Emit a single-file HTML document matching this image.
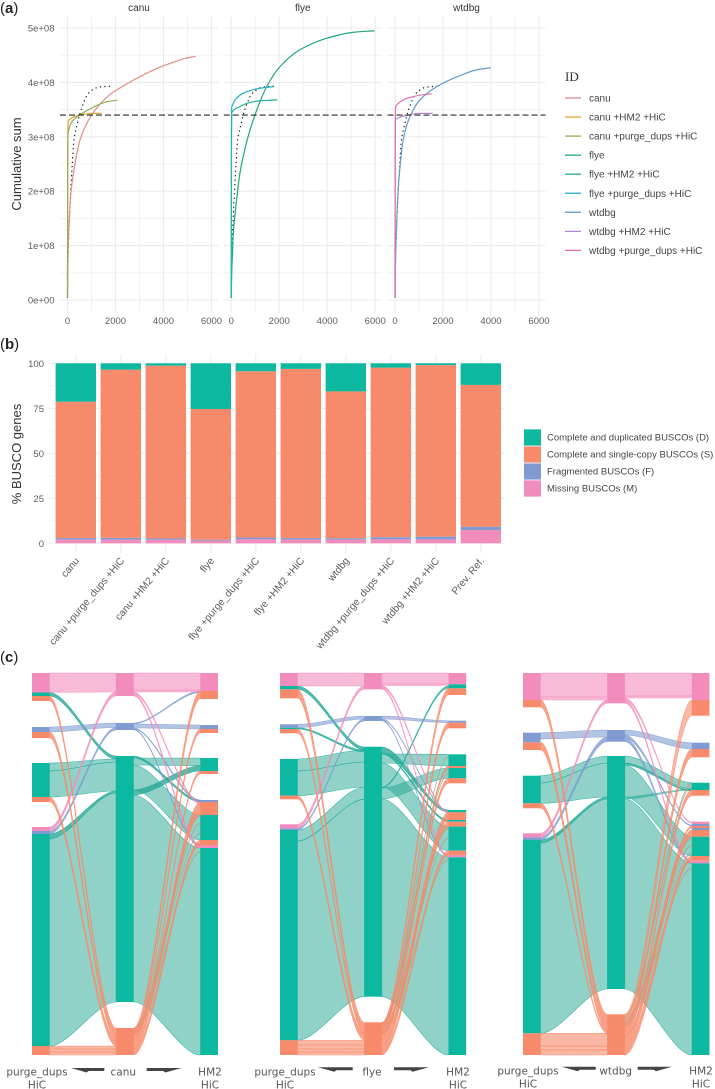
<!DOCTYPE html>
<html lang="en">
<head>
<meta charset="utf-8">
<title>Genome assembly comparison figure</title>
<style>
html,body{margin:0;padding:0;background:#fff;}
svg{display:block;font-family:"Liberation Sans",sans-serif;}
</style>
</head>
<body>
<svg id="figure" xmlns="http://www.w3.org/2000/svg" width="715" height="1089" viewBox="0 0 715 1089"></svg>
<script>
/* ---------- panel (a) data: contig rank vs cumulative sum (units of 1e8 bp) ---------- */
const facetNames = ['canu', 'flye', 'wtdbg'];
const aXTicks = [0, 2000, 4000, 6000];
const aXMinorTicks = [1000, 3000, 5000];
const aYTicks = [0, 1, 2, 3, 4, 5];
const aYTickLabels = ['0e+00', '1e+08', '2e+08', '3e+08', '4e+08', '5e+08'];
const aYMinorTicks = [0.5, 1.5, 2.5, 3.5, 4.5];
const referenceSize = 3.4;
const prevRefRank = [0, 15, 40, 80, 130, 200, 270, 400, 520, 650, 825, 1000, 1200, 1450, 1800];
const prevRefCum = [0.05, 0.6, 1.0, 1.5, 1.96, 2.5, 2.95, 3.22, 3.43, 3.6, 3.77, 3.85, 3.9, 3.92, 3.93];
const canuRank = [0, 10, 30, 60, 100, 150, 220, 312, 400, 520, 700, 1000, 1350, 1750, 2190, 2700, 3300, 3800, 4400, 4900, 5340];
const canuCum = [0.05, 0.5, 1.0, 1.35, 1.7, 2.0, 2.25, 2.5, 2.72, 2.94, 3.15, 3.4, 3.6, 3.77, 3.9, 4.03, 4.17, 4.27, 4.37, 4.44, 4.48];
const canuHm2Rank = [0, 5, 10, 20, 30, 60, 150, 300, 500, 800, 1100, 1425];
const canuHm2Cum = [0.05, 1.5, 2.8, 3.2, 3.29, 3.31, 3.34, 3.37, 3.4, 3.42, 3.43, 3.43];
const canuPurgeRank = [0, 5, 10, 20, 50, 100, 200, 350, 500, 800, 1100, 1400, 1700, 2070];
const canuPurgeCum = [0.05, 1.5, 2.6, 3.05, 3.12, 3.2, 3.29, 3.35, 3.4, 3.48, 3.55, 3.61, 3.65, 3.67];
const flyeRank = [0, 20, 50, 85, 150, 222, 350, 500, 700, 987, 1475, 2030, 2860, 3970, 5070, 5970];
const flyeCum = [0.05, 0.5, 0.85, 1.22, 1.55, 1.84, 2.3, 2.64, 3.0, 3.4, 3.92, 4.29, 4.6, 4.81, 4.92, 4.95];
const flyeHm2Rank = [0, 5, 10, 20, 60, 150, 330, 700, 1170, 1500, 1930];
const flyeHm2Cum = [0.05, 1.6, 3.0, 3.44, 3.47, 3.51, 3.55, 3.62, 3.66, 3.67, 3.68];
const flyePurgeRank = [0, 5, 10, 15, 50, 120, 222, 450, 780, 1330, 1750];
const flyePurgeCum = [0.05, 1.6, 3.0, 3.53, 3.58, 3.65, 3.71, 3.79, 3.85, 3.9, 3.92];
const wtdbgRank = [0, 15, 40, 80, 139, 220, 320, 450, 653, 1040, 1735, 2570, 3400, 4000];
const wtdbgCum = [0.05, 0.6, 1.05, 1.55, 2.08, 2.5, 2.88, 3.15, 3.4, 3.68, 3.92, 4.1, 4.23, 4.27];
const wtdbgHm2Rank = [0, 5, 10, 20, 60, 200, 450, 764, 1100, 1570];
const wtdbgHm2Cum = [0.05, 1.6, 3.0, 3.32, 3.33, 3.36, 3.39, 3.42, 3.43, 3.43];
const wtdbgPurgeRank = [0, 5, 10, 20, 60, 208, 450, 764, 1100, 1530];
const wtdbgPurgeCum = [0.05, 1.6, 3.0, 3.54, 3.58, 3.64, 3.7, 3.74, 3.77, 3.79];
const legendALabels = ['canu', 'canu +HM2 +HiC', 'canu +purge_dups +HiC', 'flye', 'flye +HM2 +HiC', 'flye +purge_dups +HiC', 'wtdbg', 'wtdbg +HM2 +HiC', 'wtdbg +purge_dups +HiC'];
const legendAColors = ['#E28C88', '#E8A33C', '#92AE50', '#1EA874', '#20B09A', '#1FB2C6', '#5E9BCE', '#B488CC', '#E36DB0'];

/* ---------- panel (b) data: percent of BUSCO genes ---------- */
const busoAssemblies = ['canu', 'canu +purge_dups +HiC', 'canu +HM2 +HiC', 'flye', 'flye +purge_dups +HiC', 'flye +HM2 +HiC', 'wtdbg', 'wtdbg +purge_dups +HiC', 'wtdbg +HM2 +HiC', 'Prev. Ref.'];
const buscoMissing = [2.0, 2.0, 2.0, 1.5, 2.2, 2.0, 2.0, 2.2, 2.2, 7.4];
const buscoFragmented = [0.9, 1.0, 0.7, 0.5, 1.0, 0.9, 0.8, 1.2, 1.5, 1.8];
const buscoSingle = [75.8, 93.5, 96.0, 72.6, 92.4, 94.0, 81.6, 94.2, 95.3, 78.8];
const buscoDuplicated = [21.3, 3.5, 1.3, 25.4, 4.4, 3.1, 15.6, 2.4, 1.0, 12.0];
const buscoTicks = [0, 25, 50, 75, 100];
const buscoMinorTicks = [12.5, 37.5, 62.5, 87.5];
const legendBLabels = ['Complete and duplicated BUSCOs (D)', 'Complete and single-copy BUSCOs (S)', 'Fragmented BUSCOs (F)', 'Missing BUSCOs (M)'];

/* ---------- panel (c) data: BUSCO gene stack levels, counted from top of the stack ---------- */
const alluvialTotal = 382;
const canuStrataLeft = [['M',0,19.5],['D',19.5,23],['S',23,28],['F',54,59],['S',59,65],['D',90,124],['S',124,129],['M',154,158],['F',158,161],['D',161,373],['S',373,382]];
const canuStrataMid = [['M',0,23],['F',50,57],['D',83,329],['S',355,382]];
const canuStrataRight = [['M',0,18],['S',18,26],['F',52,56],['S',56,60],['D',85,98],['S',98,101],['F',127,129],['S',129,142],['D',142,167],['S',167,172],['M',172,175],['D',175,382]];
const canuFlowsLeft = [
 ['D',90,98,86,89],['D',98,124,89,118],['D',161,166,118,120],['D',166,373,120,329],['D',19.5,23,83,86],
 ['F',54,59,50,54.5],['F',158,161,54.5,57],['M',0,19.5,0,19],['M',154,158,19,23],
 ['S',23,28,355,360],['S',59,65,360,366],['S',124,129,366,373],['S',373,376,373,376],['S',376,379,376,379],['S',379,382,379,382]];
const canuFlowsRight = [
 ['D',85,92.7,85,92],['D',142,167,92,117],['D',175,382,122,329],['D',92.7,98,117,122],['D',127,129,83,85],
 ['F',18,19.5,50,51],['F',52,56,51,55],['F',127,129,55,56],['F',172,174,56,57],
 ['M',0,17,0,17],['M',17,19,17,19],['M',129.5,131,19,21],['M',172,175,21,23],
 ['X',142,143,355,356],['X',150,151,357,358],['X',160,161,359,360],['X',178,179,361,362],
 ['S',18,26,355,362],['S',56,60,362,366],['S',98,101,366,369],['S',129,142,369,376],['S',167,172,376,382]];
const flyeStrataLeft = [['M',0,13],['D',13,16.3],['S',16.3,25.3],['F',51.3,54.7],['D',54.7,56],['S',56,60.3],['D',86,122.7],['S',122.7,126.3],['M',151.3,155.3],['F',155.3,157],['D',157,367.3],['S',367.3,382]];
const flyeStrataMid = [['M',0,16.3],['F',43,48],['D',73.7,323.7],['S',349.3,382]];
const flyeStrataRight = [['M',0,11.3],['D',11.3,15.3],['S',15.3,22],['F',47.7,49.7],['S',49.7,55.3],['D',81.3,93],['S',93,95],['D',95,105.3],['S',105.3,110.3],['D',137,139.3],['S',139.3,147],['D',147,148.7],['S',148.7,153.7],['D',153.7,177.7],['S',177.7,182],['M',182,184.3],['D',184.3,382]];
const flyeFlowsLeft = [
 ['D',86,98,77,89],['D',98,122.7,89,114],['D',157,168,114,126.3],['D',168,367.3,126.3,323.7],['D',13,16.3,74,77],['D',54.7,56,77,79],
 ['F',51.3,54.7,43,46],['F',155.3,157,46,48],['M',0,13,0,13],['M',151.3,155.3,13,16.3],
 ['S',16.3,25.3,349.3,356],['S',56,60.3,356,360],['S',122.7,126.3,360,367],['S',367.3,372,367.3,372],['S',372,376,372,376],['S',376,379,376,379],['S',379,382,379,382]];
const flyeFlowsRight = [
 ['D',81.3,93,81,90],['D',153.7,177.7,90,114],['D',95,105.3,115,126],['D',184.3,382,126,323.7],['D',137,139.3,74,80],['D',147,148.7,80,81],['D',13,15,114,115],
 ['F',47.7,49.7,43,46],['F',138,139,46,47],['F',183,184,47,48],
 ['M',0,11,0,11],['M',11,12.5,11,12.5],['M',139,140.5,12.5,14.5],['M',182,184,14.5,16.3],
 ['X',83,84,349.3,350.3],['X',96,97,351,352],['X',100,101,353,354],['X',155,156,355,356],['X',165,166,358,359],['X',186,187,360,361],
 ['S',15.3,22,349.3,356],['S',49.7,55.3,356,360],['S',93,95,360,362],['S',105.3,110.3,362,366],['S',139.3,147,366,372],['S',148.7,153.7,372,377],['S',177.7,182,377,382]];
const wtdbgStrataLeft = [['M',0,27],['S',27,34.3],['F',59.7,69.3],['S',69.3,77],['D',102.7,130.3],['S',130.3,135.3],['M',160.3,164.3],['F',164.3,167],['D',167,360.3],['S',360.3,382]];
const wtdbgStrataMid = [['M',0,30.3],['F',57,68.7],['D',83,316],['S',341.3,382]];
const wtdbgStrataRight = [['M',0,27],['S',27,42.7],['F',69.7,76],['S',76,84.3],['D',109.7,117],['S',117,122.7],['M',148.7,151],['F',151,153],['S',153,155],['F',155,157],['S',157,163.7],['D',163.7,183],['S',183,187.7],['M',187.7,190.3],['D',190.3,382]];
const wtdbgFlowsLeft = [
 ['D',102.7,110,83,90],['D',110,130.3,90,124],['D',167,170,124,126],['D',170,360.3,126,316],
 ['F',59.7,66,57,64],['F',164.3,167,64,68.7],['M',0,24,0,24],['M',24,27,24,27],['M',160.3,164.3,27,30.3],
 ['S',27,34.3,341.3,350],['S',69.3,77,350,358],['S',130.3,135.3,358,360.3],['S',360.3,373,360.3,373],['S',373,377,373,377],['S',377,382,377,382]];
const wtdbgFlowsRight = [
 ['D',109.7,116,83,90],['D',163.7,183,92,124],['D',116,117,124,126],['D',190.3,382,126,316],['D',117,118,90,92],
 ['F',69.7,76,57,62],['F',152,153,62,65],['F',188.5,190,65,68.7],
 ['M',0,23,0,23],['M',23,25,23,25],['M',149,150,25,27.5],['M',188,190,27.5,30.3],
 ['X',110,111,341.3,342.3],['X',113,114,344,345],['X',165,166,346,347],['X',172,173,348,349],['X',180,181,350,351],['X',195,196,352,353],
 ['S',27,42.7,341.3,352],['S',76,84.3,352,358],['S',117,122.7,358,362],['S',153,155,362,364],['S',157,163.7,364,372],['S',183,187.7,372,382]];

/* ---------- helpers ---------- */
const NS = 'http://www.w3.org/2000/svg';
const root = document.getElementById('figure');
function el(tag, attrs, parent) {
  const n = document.createElementNS(NS, tag);
  for (const k in attrs) n.setAttribute(k, attrs[k]);
  parent.appendChild(n);
  return n;
}
/* monotone cubic path through screen points */
function monotonePath(px, py) {
  const n = px.length;
  const h = [], s = [], m = [];
  for (let i = 0; i < n - 1; i++) {
    h.push(Math.max(px[i + 1] - px[i], 1e-6));
    s.push((py[i + 1] - py[i]) / h[i]);
  }
  m.push(s[0]);
  for (let i = 1; i < n - 1; i++) {
    m.push(s[i - 1] * s[i] <= 0 ? 0 : 2 * s[i - 1] * s[i] / (s[i - 1] + s[i]));
  }
  m.push(s[n - 2]);
  let d = 'M' + px[0] + ' ' + py[0];
  for (let i = 0; i < n - 1; i++) {
    const t = h[i] / 3;
    d += 'C' + (px[i] + t) + ' ' + (py[i] + m[i] * t) + ' ' + (px[i + 1] - t) + ' ' + (py[i + 1] - m[i + 1] * t) + ' ' + px[i + 1] + ' ' + py[i + 1];
  }
  return d;
}
const GRID = '#ebebeb';
const TICK = '#5c5c5c';
const catFill = { D: '#0DB8A0', S: '#F78A6A', F: '#7F9BD2', M: '#F28CBC', X: '#A8A98C' };
const paleFill = { D: '#2BA896', S: '#F78A6A', F: '#7F9BD2', M: '#F28CBC', X: '#A8A98C' };
const paleAlpha = { D: 0.52, S: 0.62, F: 0.6, M: 0.6, X: 0.7 };
const thinLimit = { D: 5.5, S: 10, F: 4, M: 5, X: 4 };

/* ---------- section tags ---------- */
const sectionLetters = ['a', 'b', 'c'];
const sectionLevels = [13, 349, 662];
sectionLetters.forEach(function (letter, i) {
  const t = el('text', { x: 0, y: sectionLevels[i], 'font-size': 15, fill: '#222' }, root);
  
  
  t.appendChild(document.createTextNode('('));
  const b = el('tspan', { 'font-weight': 'bold' }, t);
  b.textContent = letter;
  t.appendChild(document.createTextNode(')'));
});

/* ---------- panel (a) ---------- */
const xA = function (f, v) { return 67.5 + 163.75 * f + 0.024 * v; };
const yA = function (v) { return 300 - 54.4 * v; };
const panelA = el('g', {}, root);


const facetSeries = [
  [[canuRank, canuCum, 0], [canuHm2Rank, canuHm2Cum, 1], [canuPurgeRank, canuPurgeCum, 2]],
  [[flyeRank, flyeCum, 3], [flyeHm2Rank, flyeHm2Cum, 4], [flyePurgeRank, flyePurgeCum, 5]],
  [[wtdbgRank, wtdbgCum, 6], [wtdbgHm2Rank, wtdbgHm2Cum, 7], [wtdbgPurgeRank, wtdbgPurgeCum, 8]]
];
facetNames.forEach(function (name, f) {
  const g = el('g', {}, panelA);
  
  
  const left = xA(f, 0) - 7.5, right = xA(f, 0) + 150.5;
  aYMinorTicks.forEach(function (v) {
    const l = el('line', { x1: left, x2: right, y1: yA(v), y2: yA(v), stroke: GRID, 'stroke-width': 0.6 }, g);
    
    
  });
  aYTicks.forEach(function (v) {
    const l = el('line', { x1: left, x2: right, y1: yA(v), y2: yA(v), stroke: GRID, 'stroke-width': 1.1 }, g);
    
    
  });
  aXMinorTicks.forEach(function (v) {
    const l = el('line', { x1: xA(f, v), x2: xA(f, v), y1: 17, y2: 313, stroke: GRID, 'stroke-width': 0.6 }, g);
    
    
  });
  aXTicks.forEach(function (v) {
    const l = el('line', { x1: xA(f, v), x2: xA(f, v), y1: 17, y2: 313, stroke: GRID, 'stroke-width': 1.1 }, g);
    
    
    const t = el('text', { x: xA(f, v), y: 324, 'font-size': 9.5, fill: TICK, 'text-anchor': 'middle' }, g);
    
    
    t.textContent = String(v);
  });
  const title = el('text', { x: xA(f, 0) + 71.5, y: 11, 'font-size': 10, fill: '#333', 'text-anchor': 'middle' }, g);
  
  
  title.textContent = name;
  const dots = el('path', {
    d: monotonePath(prevRefRank.map(function (r) { return xA(f, r); }), prevRefCum.map(yA)),
    fill: 'none', stroke: '#111', 'stroke-width': 1.3, 'stroke-dasharray': '0.1 4.4', 'stroke-linecap': 'round'
  }, g);
  
  
  facetSeries[f].forEach(function (s) {
    const line = el('path', {
      d: monotonePath(s[0].map(function (r) { return xA(f, r); }), s[1].map(yA)),
      fill: 'none', stroke: legendAColors[s[2]], 'stroke-width': 1.2, 'stroke-linejoin': 'round'
    }, g);
    
    
  });
  const dash = el('line', { x1: left, x2: right, y1: yA(referenceSize), y2: yA(referenceSize), stroke: '#2a2a2a', 'stroke-width': 1.2, 'stroke-dasharray': '6 3' }, g);
  
  
});
aYTicks.forEach(function (v, i) {
  const t = el('text', { x: 54.5, y: yA(v) + 3.5, 'font-size': 9.5, fill: TICK, 'text-anchor': 'end' }, panelA);
  
  
  t.textContent = aYTickLabels[i];
});
const aTitle = el('text', { x: 0, y: 0, 'font-size': 13, fill: '#333', 'text-anchor': 'middle', transform: 'translate(21,164) rotate(-90)' }, panelA);


aTitle.textContent = 'Cumulative sum';
const idTitle = el('text', { x: 565, y: 81, 'font-size': 13, fill: '#333', 'font-family': '"Liberation Serif",serif' }, panelA);


idTitle.textContent = 'ID';
legendALabels.forEach(function (label, i) {
  const y = 98 + 19.05 * i;
  const k = el('line', { x1: 565, x2: 581, y1: y, y2: y, stroke: legendAColors[i], 'stroke-width': 1.3 }, panelA);
  
  
  const t = el('text', { x: 589, y: y + 3.5, 'font-size': 10, fill: '#444' }, panelA);
  
  
  t.textContent = label;
});

/* ---------- panel (b) ---------- */
const xB = function (i) { return 75.8 + 45 * i; };
const yB = function (v) { return 543.3 - 1.8 * v; };
const panelB = el('g', {}, root);


buscoMinorTicks.forEach(function (v) {
  const l = el('line', { x1: 47, x2: 505, y1: yB(v), y2: yB(v), stroke: '#f0f0f0', 'stroke-width': 0.6 }, panelB);
  
  
});
buscoTicks.forEach(function (v) {
  const l = el('line', { x1: 47, x2: 505, y1: yB(v), y2: yB(v), stroke: GRID, 'stroke-width': 1 }, panelB);
  
  
  const t = el('text', { x: 44, y: yB(v) + 3.5, 'font-size': 9.5, fill: TICK, 'text-anchor': 'end' }, panelB);
  
  
  t.textContent = String(v);
});
busoAssemblies.forEach(function (name, i) {
  const cx = xB(i);
  const v = el('line', { x1: cx, x2: cx, y1: 354, y2: 553, stroke: GRID, 'stroke-width': 1 }, panelB);
  
  
  const parts = [['M', buscoMissing[i]], ['F', buscoFragmented[i]], ['S', buscoSingle[i]], ['D', buscoDuplicated[i]]];
  let base = 0;
  parts.forEach(function (p) {
    const top = base + p[1];
    const r = el('rect', { x: cx - 20.2, width: 40.4, y: yB(top), height: yB(base) - yB(top), fill: catFill[p[0]] }, panelB);
    
    
    base = top;
  });
  const t = el('text', { x: 0, y: 0, 'font-size': 10.2, fill: TICK, 'text-anchor': 'end', transform: 'translate(' + (cx + 4) + ',561) rotate(-50)' }, panelB);
  
  
  t.textContent = name;
});
const bTitle = el('text', { x: 0, y: 0, 'font-size': 13, fill: '#333', 'text-anchor': 'middle', transform: 'translate(21,454) rotate(-90)' }, panelB);


bTitle.textContent = '% BUSCO genes';
['D', 'S', 'F', 'M'].forEach(function (c, i) {
  const y = 429 + 17 * i;
  const r = el('rect', { x: 524, y: y + 0.4, width: 17, height: 16.2, fill: catFill[c] }, panelB);
  
  
  const t = el('text', { x: 547, y: y + 11.5, 'font-size': 9.5, fill: '#444' }, panelB);
  
  
  t.textContent = legendBLabels[i];
});

/* ---------- panel (c) ---------- */
const yC = function (v) { return 673 + v * 382 / alluvialTotal; };
const flowOrder = { D: 0, F: 1, M: 2, X: 3, S: 4 };
function drawFlow(parent, x1, x2, f, side) {
  /* side 'L': f=[cat, outerTop, outerBottom, midTop, midBottom] outer at x1, mid at x2
     side 'R': outer at x2, mid at x1 */
  const a0 = side === 'L' ? f[1] : f[3], a1 = side === 'L' ? f[2] : f[4];
  const b0 = side === 'L' ? f[3] : f[1], b1 = side === 'L' ? f[4] : f[2];
  const c1 = x1 + (x2 - x1) * 0.3, c2 = x1 + (x2 - x1) * 0.7;
  const d = 'M' + x1 + ' ' + yC(a0) +
    'C' + c1 + ' ' + yC(a0) + ' ' + c2 + ' ' + yC(b0) + ' ' + x2 + ' ' + yC(b0) +
    'L' + x2 + ' ' + yC(b1) +
    'C' + c2 + ' ' + yC(b1) + ' ' + c1 + ' ' + yC(a1) + ' ' + x1 + ' ' + yC(a1) + 'Z';
  const thin = Math.min(a1 - a0, b1 - b0) < thinLimit[f[0]] && Math.abs(a0 - b0) > 10;
  const p = el('path', {
    d: d, fill: paleFill[f[0]], 'fill-opacity': thin ? 0.8 : paleAlpha[f[0]],
    stroke: f[0] === 'D' ? '#1CAF9A' : catFill[f[0]], 'stroke-width': f[0] === 'D' ? 0.6 : 0.5, 'stroke-opacity': 0.85
  }, parent);
  
  
}
function drawStrata(parent, strata, x, w) {
  strata.forEach(function (s) {
    const r = el('rect', { x: x, width: w, y: yC(s[1]), height: yC(s[2]) - yC(s[1]), fill: catFill[s[0]] }, parent);
    
    
  });
}
function drawArrow(parent, xa, xb, y, dir) {
  const notch = xa + (xb - xa) * 0.5;
  const pts = dir < 0
    ? [[xa, y], [xb, y], [xb, y + 3], [notch + 1, y + 3], [notch - 1, y + 4.5]]
    : [[xa, y], [xb, y], [notch + 1, y + 4.5], [notch - 1, y + 3], [xa, y + 3]];
  const a = el('polygon', { points: pts.map(function (q) { return q.join(','); }).join(' '), fill: '#444' }, parent);
  
  
}
function drawLabel(parent, x, y, str, name) {
  const t = el('text', { x: x, y: y, 'font-size': 10.5, fill: '#555', 'text-anchor': 'middle', 'font-family': '"DejaVu Sans",sans-serif' }, parent);
  
  
  t.textContent = str;
}
const alluvialPlots = [
  { name: 'canu', sl: canuStrataLeft, sm: canuStrataMid, sr: canuStrataRight, fl: canuFlowsLeft, fr: canuFlowsRight,
    xl: 32, xm: 116, xr: 200.5, w: 17.5, ly: 1075.5, ay: 1068, pc: 37, mc: 123.3, hc: 210, a1: 71, a2: 104.3, a3: 146.7, a4: 181.7 },
  { name: 'flye', sl: flyeStrataLeft, sm: flyeStrataMid, sr: flyeStrataRight, fl: flyeFlowsLeft, fr: flyeFlowsRight,
    xl: 280, xm: 364.3, xr: 448.7, w: 17.5, ly: 1075.5, ay: 1067.3, pc: 285, mc: 372, hc: 458, a1: 318, a2: 352.7, a3: 394, a4: 429 },
  { name: 'wtdbg', sl: wtdbgStrataLeft, sm: wtdbgStrataMid, sr: wtdbgStrataRight, fl: wtdbgFlowsLeft, fr: wtdbgFlowsRight,
    xl: 523, xm: 607.3, xr: 692, w: 17.5, ly: 1074.5, ay: 1066.7, pc: 528, mc: 615.7, hc: 701, a1: 561.7, a2: 595.7, a3: 637.7, a4: 672 }
];
alluvialPlots.forEach(function (pl) {
  const g = el('g', {}, root);
  
  
  const all = pl.fl.map(function (f) { return ['L', f]; }).concat(pl.fr.map(function (f) { return ['R', f]; }));
  all.sort(function (a, b) { return flowOrder[a[1][0]] - flowOrder[b[1][0]]; });
  all.forEach(function (e) {
    if (e[0] === 'L') drawFlow(g, pl.xl + pl.w, pl.xm, e[1], 'L');
    else drawFlow(g, pl.xm + pl.w, pl.xr, e[1], 'R');
  });
  drawStrata(g, pl.sl, pl.xl, pl.w);
  drawStrata(g, pl.sm, pl.xm, pl.w);
  drawStrata(g, pl.sr, pl.xr, pl.w);
  drawLabel(g, pl.pc, pl.ly, 'purge_dups', 'purge-dups-axis-label');
  drawLabel(g, pl.pc, pl.ly + 13, 'HiC', 'purge-dups-hic-axis-label');
  drawLabel(g, pl.mc, pl.ly, pl.name, 'assembler-axis-label');
  drawLabel(g, pl.hc, pl.ly, 'HM2', 'hm2-axis-label');
  drawLabel(g, pl.hc, pl.ly + 13, 'HiC', 'hm2-hic-axis-label');
  drawArrow(g, pl.a1, pl.a2, pl.ay, -1);
  drawArrow(g, pl.a3, pl.a4, pl.ay, 1);
});
</script>
</body>
</html>
